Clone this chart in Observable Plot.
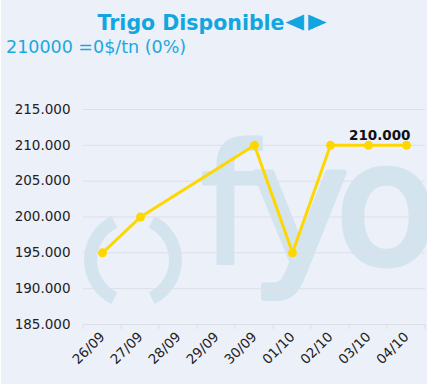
<!DOCTYPE html>
<html>
<head>
<meta charset="utf-8">
<script src="https://cdn.jsdelivr.net/npm/d3@7"></script>
<script src="https://cdn.jsdelivr.net/npm/@observablehq/plot@0.6"></script>
<style>
  html, body { margin: 0; padding: 0; background: #ffffff; }
  #wrap { position: absolute; left: 1px; top: 0; width: 426px; height: 384px; background: #ECF0F9; overflow: hidden; font-family: "DejaVu Sans", Verdana, sans-serif; }
  #head { position: relative; height: 70px; }
  #title { position: absolute; left: 0; width: 422px; top: 12px; text-align: center; font-size: 20.5px; line-height: 20.5px; font-weight: bold; color: #11a6df; white-space: nowrap; }
  #title .arr { display: inline-block; font-size: 24px; line-height: 20.5px; transform: scaleY(1.35); transform-origin: 50% 80%; margin-left: 1px; }
  #title .arr + .arr { margin-left: 4px; }
  #subtitle { position: absolute; left: 5px; top: 39px; font-size: 17.5px; line-height: 17.5px; color: #1aa8e0; white-space: nowrap; }
  #chart svg { display: block; }
</style>
</head>
<body>
<div id="wrap">
  <div id="head">
    <div id="title">Trigo Disponible<span class="arr">◄</span><span class="arr">►</span></div>
    <div id="subtitle">210000 =0$/tn (0%)</div>
  </div>
  <div id="chart"></div>
</div>
<script>
const dates = ["26/09", "27/09", "28/09", "29/09", "30/09", "01/10", "02/10", "03/10", "04/10"];
const prices = [195000, 200000, null, null, 210000, 195000, 210000, 210000, 210000];
const yTicks = [185000, 190000, 195000, 200000, 205000, 210000, 215000];
const lastLabel = "210.000";

const rows = dates.map((d, i) => ({date: d, price: prices[i]})).filter(r => r.price != null);
const last = rows[rows.length - 1];
const fmt = v => d3.format(",")(v).replace(/,/g, ".");
const lineColor = "#FFD700";

const chart = Plot.plot({
  width: 426,
  height: 314,
  marginTop: 39,
  marginBottom: 60,
  marginLeft: 82,
  marginRight: 2,
  style: {background: "transparent", fontFamily: "DejaVu Sans, Verdana, sans-serif", fontSize: "13.5px", color: "#333"},
  x: {type: "point", domain: dates, padding: 0.5, label: null},
  y: {domain: [185000, 215000], label: null},
  marks: [
    Plot.gridY(yTicks, {stroke: "#dcdfe6", strokeOpacity: 1}),
    Plot.axisY(yTicks, {tickSize: 0, tickPadding: 13, tickFormat: fmt, fontSize: 13.5, fill: "#222", label: null}),
    Plot.axisX({tickSize: 0, tickRotate: -45, tickPadding: 10, fontSize: 13.5, fill: "#222", label: null}),
    Plot.line(rows, {x: "date", y: "price", stroke: lineColor, strokeWidth: 3}),
    Plot.dot(rows, {x: "date", y: "price", r: 4.5, fill: lineColor, stroke: "none"}),
    Plot.text([last], {x: "date", y: "price", text: () => lastLabel, textAnchor: "end", lineAnchor: "bottom", dx: 4, dy: -5, fontWeight: "bold", fontSize: 13.5, fill: "#111"})
  ]
});

document.getElementById("chart").appendChild(chart);

// decorative watermark (drawn first, behind everything) + category boundary ticks
const svg = d3.select(chart);
const xs = chart.scale("x");
const ys = chart.scale("y");
const step = xs.apply(dates[1]) - xs.apply(dates[0]);
const wm = svg.insert("g", ":first-child").attr("fill", "#d3e4ef").attr("text-anchor", "start");
const cx = 132, cy = 190;
const arc = d3.arc().innerRadius(36).outerRadius(49);
wm.append("path").attr("transform", `translate(${cx},${cy})`).attr("d", arc({startAngle: -Math.PI * 0.855, endAngle: -Math.PI * 0.145}));
wm.append("path").attr("transform", `translate(${cx},${cy})`).attr("d", arc({startAngle: Math.PI * 0.145, endAngle: Math.PI * 0.855}));
[["f", 199, 3], ["y", 250, 6], ["o", 335, 7]].forEach(([ch, x, sw]) => {
  wm.append("text").attr("x", x).attr("y", 193).attr("font-size", 165)
    .attr("font-family", "DejaVu Sans, sans-serif").attr("text-anchor", "start")
    .attr("stroke", "#d3e4ef").attr("stroke-width", sw).attr("stroke-linejoin", "round").text(ch);
});

const y0 = ys.apply(185000);
const tg = svg.append("g").attr("stroke", "#dcdfe6");
dates.forEach(d => {
  const bx = xs.apply(d) - step / 2;
  tg.append("line").attr("x1", bx).attr("x2", bx).attr("y1", y0).attr("y2", y0 + 5);
});
const bxEnd = xs.apply(dates[dates.length - 1]) + step / 2;
tg.append("line").attr("x1", bxEnd).attr("x2", bxEnd).attr("y1", y0).attr("y2", y0 + 5);
</script>
</body>
</html>
